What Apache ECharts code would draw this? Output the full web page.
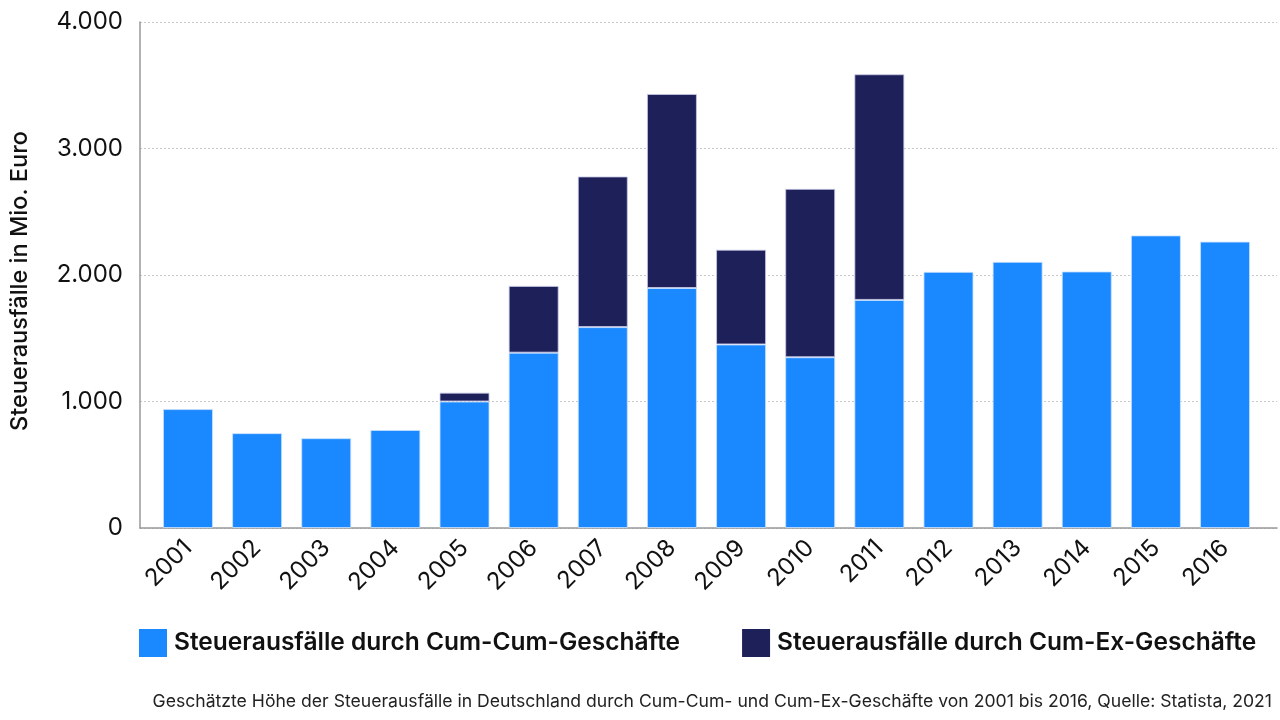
<!DOCTYPE html>
<html>
<head>
<meta charset="utf-8">
<script src="https://cdn.jsdelivr.net/npm/echarts@6/dist/echarts.min.js"></script>
<style>
html,body{margin:0;padding:0;background:#fff;}
#c{width:1280px;height:720px;}
</style>
</head>
<body>
<div id="c"></div>
<script>
var years = ['2001','2002','2003','2004','2005','2006','2007','2008','2009','2010','2011','2012','2013','2014','2015','2016'];
var cumCum = [940, 750, 710, 775, 1000, 1386, 1588, 1897, 1451, 1350, 1803, 2025, 2104, 2028, 2313, 2264];
var cumEx = [null, null, null, null, 70, 528, 1191, 1534, 749, 1331, 1784, null, null, null, null, null];
var yTicks = [0, 1000, 2000, 3000, 4000];
var seriesNames = ['Steuerausfälle durch Cum-Cum-Geschäfte', 'Steuerausfälle durch Cum-Ex-Geschäfte'];
var yTitle = 'Steuerausfälle in Mio. Euro';
var caption = 'Geschätzte Höhe der Steuerausfälle in Deutschland durch Cum-Cum- und Cum-Ex-Geschäfte von 2001 bis 2016, Quelle: Statista, 2021';

var FONT = 'Inter';
var chart = echarts.init(document.getElementById('c'));
chart.setOption({
  backgroundColor: '#fff',
  animation: false,
  textStyle: {fontFamily: FONT},
  grid: [
    {left: 140, right: 3, top: 22, bottom: 192},
    {left: 153.4, right: 20.4, top: 22, bottom: 192}
  ],
  xAxis: [
    {gridIndex: 0, type: 'value', min: 0, max: 1, axisLabel: {show: false}, axisTick: {show: false}, splitLine: {show: false},
     axisLine: {show: true, lineStyle: {color: '#999', width: 1.5}}},
    {gridIndex: 1, type: 'category', data: years, axisLine: {show: false}, axisTick: {show: false},
     axisLabel: {rotate: 45, margin: 16, fontSize: 24, color: '#111', fontFamily: FONT, fontWeight: 400, interval: 0}}
  ],
  yAxis: [
    {gridIndex: 0, type: 'value', min: yTicks[0], max: yTicks[yTicks.length-1], interval: 1000,
     axisLine: {show: true, lineStyle: {color: '#999', width: 1.5}}, axisTick: {show: false},
     axisLabel: {margin: 17, fontSize: 24, color: '#111', fontFamily: FONT,
       formatter: function(v){ return String(v).replace(/\B(?=(\d{3})+(?!\d))/g, '.'); }},
     splitLine: {show: true, lineStyle: {color: '#c8c8c8', type: [2, 2], width: 1}}},
    {gridIndex: 1, type: 'value', min: yTicks[0], max: yTicks[yTicks.length-1], show: false}
  ],
  legend: {
    left: 134, top: 624, itemWidth: 28, itemHeight: 28, itemGap: 62,
    icon: 'rect',
    itemStyle: {borderWidth: 0},
    textStyle: {fontSize: 24.5, fontWeight: 600, color: '#111', fontFamily: FONT, padding: [0,0,0,2]},
    data: seriesNames
  },
  graphic: [
    {type: 'text', right: 8, top: 693,
     style: {text: caption, fontSize: 17.6, fill: '#222', fontFamily: FONT}},
    {type: 'text', x: 20, y: 281, rotation: Math.PI / 2,
     style: {text: yTitle, fontSize: 23.5, fontWeight: 500, fill: '#111', fontFamily: FONT, align: 'center', verticalAlign: 'middle'}}
  ],
  series: [
    {name: seriesNames[0], type: 'bar', stack: 's', xAxisIndex: 1, yAxisIndex: 1, barWidth: 50, data: cumCum,
     itemStyle: {color: '#1a88ff', borderColor: 'rgba(200,225,255,0.8)', borderWidth: 1}},
    {name: seriesNames[1], type: 'bar', stack: 's', xAxisIndex: 1, yAxisIndex: 1, barWidth: 50, data: cumEx,
     itemStyle: {color: '#1e205a', borderColor: 'rgba(200,200,230,0.8)', borderWidth: 1}}
  ]
});
</script>
</body>
</html>
